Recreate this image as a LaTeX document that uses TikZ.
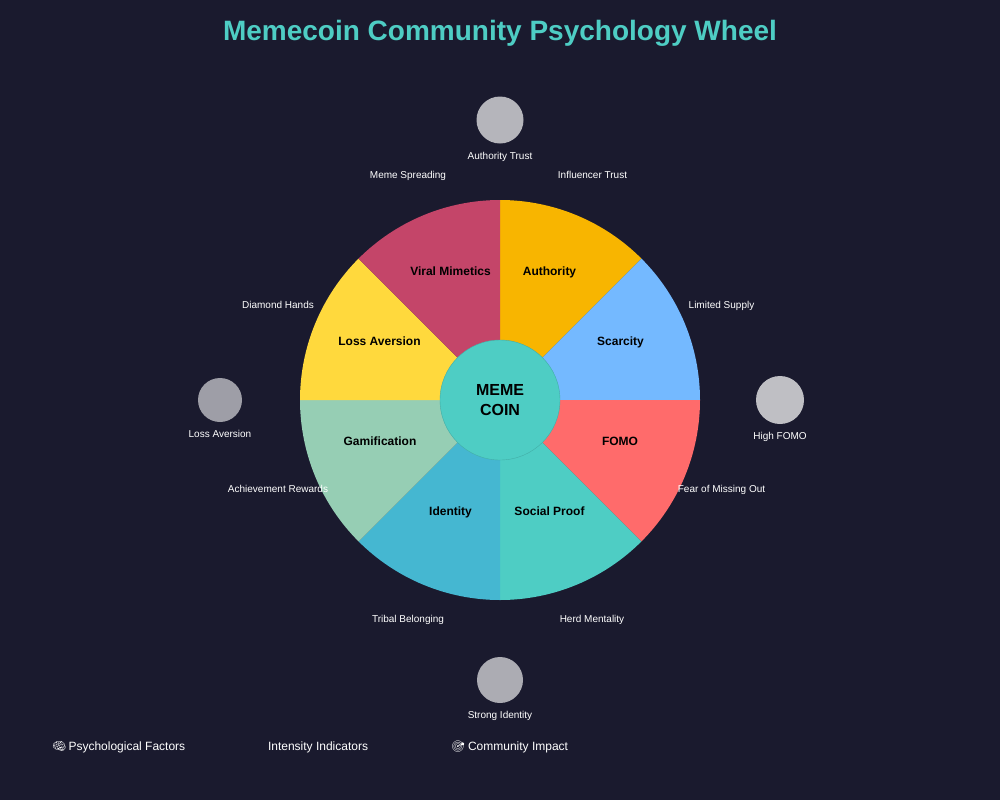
\documentclass[tikz,border=0pt]{standalone}
\usepackage{fontspec}
\setmainfont{Liberation Sans}
\newfontfamily\emojifont{Noto Emoji}
\usetikzlibrary{calc}
\definecolor{bgc}{HTML}{1A1A2E}
\definecolor{titlec}{HTML}{4ECDC4}
\definecolor{secA}{HTML}{F8B500}
\definecolor{secB}{HTML}{74B9FF}
\definecolor{secC}{HTML}{FF6B6B}
\definecolor{secD}{HTML}{4ECDC4}
\definecolor{secE}{HTML}{45B7D1}
\definecolor{secF}{HTML}{96CEB4}
\definecolor{secG}{HTML}{FFD93D}
\definecolor{secH}{HTML}{C44569}
\tikzset{
  x=0.75pt,y=-0.75pt,
  every node/.style={inner sep=0pt,outer sep=0pt,anchor=base},
  seclabel/.style={font=\fontsize{9}{9}\selectfont\bfseries,text=black},
  smalllabel/.style={font=\fontsize{7.5}{7.5}\selectfont,text=white},
  legendlabel/.style={font=\fontsize{9}{9}\selectfont,text=white,anchor=base west},
  dot/.style={circle,fill=white,draw=none,anchor=center}
}
% #1,#2: page-clockwise angles from east (y axis points down the page)
\newcommand{\wheelsector}[3]{\fill[#3] (500,400) -- ($(500,400)+(#1:200)$) arc[start angle=#1,end angle=#2,radius=200] -- cycle;}
\begin{document}
\begin{tikzpicture}
\useasboundingbox (0,0) rectangle (1000,800);
\fill[bgc] (0,0) rectangle (1000,800);
\node[font=\fontsize{21}{21}\selectfont\bfseries,text=titlec] (title) at (500,40) {Memecoin Community Psychology Wheel};
\wheelsector{-90}{-45}{secA}
\wheelsector{-45}{0}{secB}
\wheelsector{0}{45}{secC}
\wheelsector{45}{90}{secD}
\wheelsector{90}{135}{secE}
\wheelsector{135}{180}{secF}
\wheelsector{180}{225}{secG}
\wheelsector{225}{270}{secH}
\node[seclabel] (sAuthority) at (549.5,275) {Authority};
\node[seclabel] (sScarcity) at (620.5,345) {Scarcity};
\node[seclabel] (sFomo) at (620,445) {FOMO};
\node[seclabel] (sSocial) at (549.5,515) {Social Proof};
\node[seclabel] (sIdentity) at (450.5,515) {Identity};
\node[seclabel] (sGamification) at (380,445) {Gamification};
\node[seclabel] (sLoss) at (379.5,345) {Loss Aversion};
\node[seclabel] (sViral) at (450.5,275) {Viral Mimetics};
\node[circle,fill=secD,draw=secD!85!black,line width=0.3pt,minimum size=90pt,anchor=center] (hub) at (500,400) {};
\node[font=\fontsize{12}{12}\selectfont\bfseries,text=black] (hubA) at (500,395.5) {MEME};
\node[font=\fontsize{12}{12}\selectfont\bfseries,text=black] (hubB) at (500,415.5) {COIN};
\node[smalllabel] (lA) at (592.5,178) {Influencer Trust};
\node[smalllabel] (lB) at (721.5,308) {Limited Supply};
\node[smalllabel] (lC) at (721.5,492) {Fear of Missing Out};
\node[smalllabel] (lD) at (592,622) {Herd Mentality};
\node[smalllabel] (lE) at (408,622) {Tribal Belonging};
\node[smalllabel] (lF) at (278,492) {Achievement Rewards};
\node[smalllabel] (lG) at (278,308) {Diamond Hands};
\node[smalllabel] (lH) at (408,178) {Meme Spreading};
\node[dot,fill opacity=0.68,minimum size=35.25pt] (dTop) at (500,120) {};
\node[dot,fill opacity=0.72,minimum size=36pt] (dRight) at (780,400) {};
\node[dot,fill opacity=0.64,minimum size=34.5pt] (dBottom) at (500,680) {};
\node[dot,fill opacity=0.58,minimum size=33pt] (dLeft) at (220,400) {};
\node[smalllabel] (tTop) at (500,159) {Authority Trust};
\node[smalllabel] (tRight) at (780,439) {High FOMO};
\node[smalllabel] (tBottom) at (500,718) {Strong Identity};
\node[smalllabel] (tLeft) at (220,437) {Loss Aversion};
\node[legendlabel] (k1) at (52,750) {\makebox[12.4pt][l]{\emojifont\fontsize{8.5}{8.5}\selectfont 🧠}Psychological Factors};
\node[legendlabel] (k2) at (268,750) {Intensity Indicators};
\node[legendlabel] (k3) at (451,750) {\makebox[12.8pt][l]{\emojifont\fontsize{8.5}{8.5}\selectfont 🎯}Community Impact};
\end{tikzpicture}
\end{document}
